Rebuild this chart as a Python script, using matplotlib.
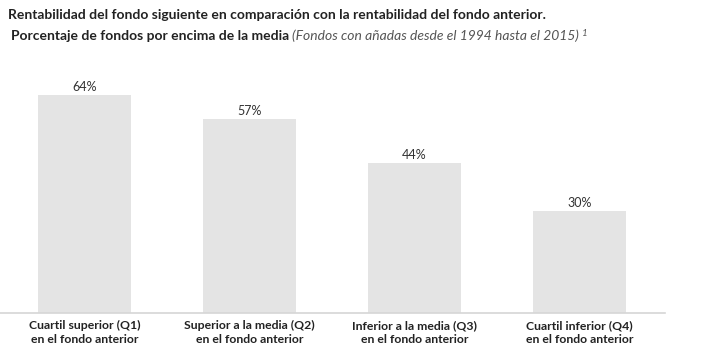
import matplotlib
matplotlib.use('Agg')
import matplotlib.pyplot as plt

CATEGORIES = [
    'Cuartil superior (Q1)\nen el fondo anterior',
    'Superior a la media (Q2)\nen el fondo anterior',
    'Inferior a la media (Q3)\nen el fondo anterior',
    'Cuartil inferior (Q4)\nen el fondo anterior',
]
VALUES = [64, 57, 44, 30]
VALUE_LABELS = ['64%', '57%', '44%', '30%']

TITLE = 'Rentabilidad del fondo siguiente en comparación con la rentabilidad del fondo anterior.'
SUBTITLE_BOLD = 'Porcentaje de fondos por encima de la media '
SUBTITLE_ITALIC = '(Fondos con añadas desde el 1994 hasta el 2015)'

plt.rcParams['font.family'] = ['Lato', 'DejaVu Sans']

W, H = 709, 357
fig = plt.figure(figsize=(W / 100, H / 100), dpi=100)

# axes: baseline at y=313px, x from 0 to 665px
ax_bottom = (H - 313) / H
ax_top = (H - 80) / H
ax = fig.add_axes([0, ax_bottom, 665 / W, ax_top - ax_bottom])

x = range(len(VALUES))
ax.bar(x, VALUES, width=0.56, color='#e4e4e4', zorder=2)
for xi, v, lab in zip(x, VALUES, VALUE_LABELS):
    ax.text(xi, v + 0.7, lab, ha='center', va='bottom', fontsize=9, color='#333333')

ax.set_xlim(-0.512, 3.518)
ax.set_ylim(0, 233 / 3.4)
for side in ['top', 'right', 'left']:
    ax.spines[side].set_visible(False)
ax.spines['bottom'].set_color('#d6d6d6')
ax.spines['bottom'].set_linewidth(1.2)
ax.set_yticks([])
ax.set_xticks(list(x))
ax.set_xticklabels(CATEGORIES, fontsize=8.8, fontweight='bold', color='#222222', linespacing=1.35)
ax.tick_params(axis='x', length=0, pad=5)

fig.text(8 / W, 1 - 15 / H, TITLE, fontsize=10, fontweight='bold', color='#222222', va='center', ha='left')
t = fig.text(11 / W, 1 - 36 / H, SUBTITLE_BOLD, fontsize=10, fontweight='bold', color='#222222', va='center', ha='left')
fig.canvas.draw()
bb = t.get_window_extent()
t2 = fig.text(bb.x1 / W, 1 - 36 / H, SUBTITLE_ITALIC, fontsize=10, style='italic', color='#555555', va='center', ha='left')
fig.canvas.draw()
bb2 = t2.get_window_extent()
fig.text(bb2.x1 / W + 0.003, 1 - 33 / H, '1', fontsize=7, style='italic', color='#555555', va='center', ha='left')

fig.savefig('out.png', dpi=100)
